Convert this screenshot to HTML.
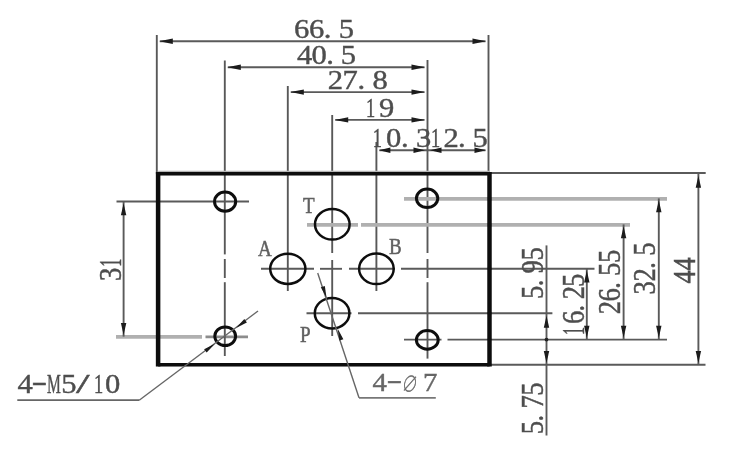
<!DOCTYPE html>
<html><head><meta charset="utf-8"><title>drawing</title>
<style>
html,body{margin:0;padding:0;background:#fff;}
svg{display:block;font-family:"Liberation Serif",serif;}
</style></head>
<body>
<svg width="738" height="460" viewBox="0 0 738 460">
<defs><filter id="soft" x="0" y="0" width="738" height="460" filterUnits="userSpaceOnUse"><feGaussianBlur stdDeviation="0.6"/></filter></defs>
<rect width="738" height="460" fill="#fff"/>
<g filter="url(#soft)">
<line x1="156.8" y1="35" x2="156.8" y2="173.8" stroke="#585858" stroke-width="1.9" />
<line x1="224.8" y1="60.5" x2="224.8" y2="254.4" stroke="#585858" stroke-width="1.9" />
<line x1="287.8" y1="86" x2="287.8" y2="291" stroke="#585858" stroke-width="1.9" />
<line x1="332.2" y1="115" x2="332.2" y2="253" stroke="#585858" stroke-width="1.9" />
<line x1="376.4" y1="142" x2="376.4" y2="291" stroke="#585858" stroke-width="1.9" />
<line x1="427.5" y1="60" x2="427.5" y2="253" stroke="#585858" stroke-width="1.9" />
<line x1="488.5" y1="35" x2="488.5" y2="173.8" stroke="#585858" stroke-width="1.9" />
<line x1="159.8" y1="41.2" x2="485.5" y2="41.2" stroke="#5a5a5a" stroke-width="1.9" />
<line x1="227.8" y1="67.2" x2="424.5" y2="67.2" stroke="#5a5a5a" stroke-width="1.9" />
<line x1="290.8" y1="92.1" x2="424.5" y2="92.1" stroke="#5a5a5a" stroke-width="1.9" />
<line x1="335.2" y1="119.9" x2="424.5" y2="119.9" stroke="#5a5a5a" stroke-width="1.9" />
<line x1="379.4" y1="150.2" x2="485.5" y2="150.2" stroke="#5a5a5a" stroke-width="1.9" />
<polygon points="159.30,41.20 172.80,38.50 172.80,43.90" fill="#1a1a1a"/>
<polygon points="486.00,41.20 472.50,43.90 472.50,38.50" fill="#1a1a1a"/>
<polygon points="227.30,67.20 240.80,64.50 240.80,69.90" fill="#1a1a1a"/>
<polygon points="425.00,67.20 411.50,69.90 411.50,64.50" fill="#1a1a1a"/>
<polygon points="290.30,92.10 303.80,89.40 303.80,94.80" fill="#1a1a1a"/>
<polygon points="425.00,92.10 411.50,94.80 411.50,89.40" fill="#1a1a1a"/>
<polygon points="334.70,119.90 348.20,117.20 348.20,122.60" fill="#1a1a1a"/>
<polygon points="425.00,119.90 411.50,122.60 411.50,117.20" fill="#1a1a1a"/>
<polygon points="378.90,150.20 390.40,147.50 390.40,152.90" fill="#1a1a1a"/>
<polygon points="425.00,150.20 413.50,152.90 413.50,147.50" fill="#1a1a1a"/>
<polygon points="430.00,150.20 441.50,147.50 441.50,152.90" fill="#1a1a1a"/>
<polygon points="486.00,150.20 474.50,152.90 474.50,147.50" fill="#1a1a1a"/>
<text transform="translate(294,38) scale(1.15,1)" x="0.0 12.96 25.91 38.87" y="0" font-size="26.6" fill="#4e4e4e" stroke="#4e4e4e" stroke-width="0.4">66.5</text>
<text transform="translate(297,63.6) scale(1.15,1)" x="0.0 12.7 25.39 38.09" y="0" font-size="26.6" fill="#4e4e4e" stroke="#4e4e4e" stroke-width="0.4">40.5</text>
<text transform="translate(327.7,88.7) scale(1.15,1)" x="0.0 12.96 25.91 38.87" y="0" font-size="26.6" fill="#4e4e4e" stroke="#4e4e4e" stroke-width="0.4">27.8</text>
<text transform="translate(364,116.8) scale(1.15,1)" font-size="26.6" fill="#4e4e4e" stroke="#4e4e4e" stroke-width="0.4"><tspan x="1.8" y="0" textLength="8.0" lengthAdjust="spacingAndGlyphs">1</tspan><tspan x="12.96" y="0">9</tspan></text>
<text transform="translate(370.8,146.7) scale(1.15,1)" font-size="26.6" fill="#4e4e4e" stroke="#4e4e4e" stroke-width="0.4"><tspan x="1.8" y="0" textLength="8.0" lengthAdjust="spacingAndGlyphs">1</tspan><tspan x="13.13" y="0">0</tspan><tspan x="26.26" y="0">.</tspan><tspan x="39.39" y="0">3</tspan></text>
<text transform="translate(429,147.4) scale(1.15,1)" font-size="26.6" fill="#4e4e4e" stroke="#4e4e4e" stroke-width="0.4"><tspan x="1.8" y="0" textLength="8.0" lengthAdjust="spacingAndGlyphs">1</tspan><tspan x="12.7" y="0">2</tspan><tspan x="25.22" y="0">.</tspan><tspan x="37.83" y="0">5</tspan></text>
<line x1="489.5" y1="173.0" x2="705.7" y2="173.0" stroke="#5a5a5a" stroke-width="1.9" />
<line x1="489.5" y1="364.7" x2="705.5" y2="364.7" stroke="#5a5a5a" stroke-width="1.9" />
<line x1="404" y1="198.8" x2="667" y2="198.8" stroke="#b0b0b0" stroke-width="3.8" />
<line x1="307" y1="224.9" x2="358" y2="224.9" stroke="#b0b0b0" stroke-width="3.8" />
<line x1="361" y1="224.9" x2="630" y2="224.9" stroke="#b0b0b0" stroke-width="3.8" />
<line x1="261" y1="268.8" x2="314" y2="268.8" stroke="#5a5a5a" stroke-width="1.9" />
<line x1="320" y1="268.8" x2="342" y2="268.8" stroke="#5a5a5a" stroke-width="1.9" />
<line x1="349" y1="268.8" x2="395" y2="268.8" stroke="#5a5a5a" stroke-width="1.9" />
<line x1="401" y1="268.8" x2="594.5" y2="268.8" stroke="#5a5a5a" stroke-width="1.9" />
<line x1="306.5" y1="313.2" x2="351.5" y2="313.2" stroke="#5a5a5a" stroke-width="1.9" />
<line x1="358" y1="313.2" x2="552.4" y2="313.2" stroke="#5a5a5a" stroke-width="1.9" />
<line x1="404" y1="339.6" x2="441.5" y2="339.6" stroke="#5a5a5a" stroke-width="1.9" />
<line x1="447.5" y1="339.6" x2="667" y2="339.6" stroke="#5a5a5a" stroke-width="1.9" />
<line x1="698.4" y1="173.8" x2="698.4" y2="364.7" stroke="#5a5a5a" stroke-width="1.9" />
<line x1="658.8" y1="198.4" x2="658.8" y2="339.6" stroke="#5a5a5a" stroke-width="1.9" />
<line x1="623.6" y1="224.4" x2="623.6" y2="339.6" stroke="#5a5a5a" stroke-width="1.9" />
<line x1="586.8" y1="268.8" x2="586.8" y2="339.6" stroke="#5a5a5a" stroke-width="1.9" />
<line x1="546.5" y1="245.4" x2="546.5" y2="435.5" stroke="#5a5a5a" stroke-width="1.9" />
<polygon points="698.40,175.80 701.10,187.80 695.70,187.80" fill="#1a1a1a"/>
<polygon points="698.40,362.90 695.70,350.90 701.10,350.90" fill="#1a1a1a"/>
<polygon points="658.80,200.20 661.50,212.20 656.10,212.20" fill="#1a1a1a"/>
<polygon points="658.80,337.80 656.10,325.80 661.50,325.80" fill="#1a1a1a"/>
<polygon points="623.60,226.20 626.30,238.20 620.90,238.20" fill="#1a1a1a"/>
<polygon points="623.60,337.80 620.90,325.80 626.30,325.80" fill="#1a1a1a"/>
<polygon points="586.80,270.60 589.50,282.60 584.10,282.60" fill="#1a1a1a"/>
<polygon points="586.80,337.80 584.10,325.80 589.50,325.80" fill="#1a1a1a"/>
<polygon points="546.50,315.70 549.20,327.70 543.80,327.70" fill="#1a1a1a"/>
<polygon points="546.50,362.90 543.80,350.90 549.20,350.90" fill="#1a1a1a"/>
<circle cx="546.5" cy="339.6" r="1.9" fill="#222"/>
<text transform="translate(694.6,283.5) scale(1.15,1) rotate(-90)" x="0.0 13.0" y="0" font-size="26.6" fill="#4e4e4e" stroke="#4e4e4e" stroke-width="0.4">44</text>
<text transform="translate(654.7,294.5) scale(1.15,1) rotate(-90)" x="0.0 12.9 25.8 38.7" y="0" font-size="26.6" fill="#4e4e4e" stroke="#4e4e4e" stroke-width="0.4">32.5</text>
<text transform="translate(619.8,314.3) scale(1.15,1) rotate(-90)" x="0.0 12.8 25.6 38.4 51.2" y="0" font-size="26.6" fill="#4e4e4e" stroke="#4e4e4e" stroke-width="0.4">26.55</text>
<text transform="translate(583.6,336.2) scale(1.15,1) rotate(-90)" font-size="26.6" fill="#4e4e4e" stroke="#4e4e4e" stroke-width="0.4"><tspan x="1.3" y="0" textLength="8.0" lengthAdjust="spacingAndGlyphs">1</tspan><tspan x="12.3" y="0">6</tspan><tspan x="24.6" y="0">.</tspan><tspan x="36.9" y="0">2</tspan><tspan x="49.2" y="0">5</tspan></text>
<text transform="translate(543.3,299) scale(1.15,1) rotate(-90)" x="0.0 12.8 25.6 38.4" y="0" font-size="26.6" fill="#4e4e4e" stroke="#4e4e4e" stroke-width="0.4">5.95</text>
<text transform="translate(542.6,434.2) scale(1.15,1) rotate(-90)" x="0.0 12.8 25.6 38.4" y="0" font-size="26.6" fill="#4e4e4e" stroke="#4e4e4e" stroke-width="0.4">5.75</text>
<line x1="116.5" y1="201.5" x2="249" y2="201.5" stroke="#5a5a5a" stroke-width="1.9" />
<line x1="116" y1="336.8" x2="202" y2="336.8" stroke="#b0b0b0" stroke-width="3.8" />
<line x1="205.5" y1="336.8" x2="248" y2="336.8" stroke="#8c8c8c" stroke-width="2.8" />
<line x1="123.6" y1="201.5" x2="123.6" y2="336.6" stroke="#5a5a5a" stroke-width="1.9" />
<polygon points="123.60,203.30 126.30,215.30 120.90,215.30" fill="#1a1a1a"/>
<polygon points="123.60,335.00 120.90,323.00 126.30,323.00" fill="#1a1a1a"/>
<text transform="translate(120.6,281) scale(1.15,1) rotate(-90)" font-size="26.6" fill="#4e4e4e" stroke="#4e4e4e" stroke-width="0.4"><tspan x="0.0" y="0">3</tspan><tspan x="14.2" y="0" textLength="8.0" lengthAdjust="spacingAndGlyphs">1</tspan></text>
<line x1="224.8" y1="259" x2="224.8" y2="278" stroke="#585858" stroke-width="1.9" />
<line x1="224.8" y1="282.2" x2="224.8" y2="356" stroke="#585858" stroke-width="1.9" />
<line x1="427.5" y1="259" x2="427.5" y2="278" stroke="#585858" stroke-width="1.9" />
<line x1="427.5" y1="282.2" x2="427.5" y2="358.6" stroke="#585858" stroke-width="1.9" />
<line x1="332.2" y1="260" x2="332.2" y2="336" stroke="#585858" stroke-width="1.9" />
<line x1="158.1" y1="171.6" x2="489.5" y2="171.6" stroke="#b4b4b4" stroke-width="1.6" />
<line x1="158.1" y1="173.8" x2="489.5" y2="173.8" stroke="#0a0a0a" stroke-width="3.4" />
<line x1="158.1" y1="364.7" x2="489.5" y2="364.7" stroke="#0a0a0a" stroke-width="3.4" />
<line x1="158.1" y1="172.10000000000002" x2="158.1" y2="366.4" stroke="#0a0a0a" stroke-width="4.5" />
<line x1="489.5" y1="172.10000000000002" x2="489.5" y2="366.4" stroke="#0a0a0a" stroke-width="4.5" />
<ellipse cx="225.1" cy="201.6" rx="10.6" ry="9.6" fill="none" stroke="#111" stroke-width="3.0"/>
<ellipse cx="427.1" cy="198.3" rx="10.7" ry="9.2" fill="none" stroke="#111" stroke-width="3.0"/>
<ellipse cx="225.2" cy="336.3" rx="10.4" ry="9.3" fill="none" stroke="#111" stroke-width="3.0"/>
<ellipse cx="427.3" cy="339.9" rx="10.9" ry="9.3" fill="none" stroke="#111" stroke-width="3.0"/>
<ellipse cx="332.3" cy="224.3" rx="17.3" ry="15.3" fill="none" stroke="#111" stroke-width="2.5"/>
<ellipse cx="287.8" cy="268.8" rx="17.6" ry="15.1" fill="none" stroke="#111" stroke-width="2.5"/>
<ellipse cx="376.4" cy="268.8" rx="17.3" ry="15.3" fill="none" stroke="#111" stroke-width="2.5"/>
<ellipse cx="332.1" cy="313.2" rx="17.3" ry="15.3" fill="none" stroke="#111" stroke-width="2.5"/>
<text transform="translate(303,212.8) scale(0.84,1)" x="0.0" y="0" font-size="22.7" fill="#606060" stroke="#606060" stroke-width="0.5">T</text>
<text transform="translate(258,256.2) scale(0.84,1)" x="0.0" y="0" font-size="22.7" fill="#606060" stroke="#606060" stroke-width="0.5">A</text>
<text transform="translate(389,254.2) scale(0.84,1)" x="0.0" y="0" font-size="22.7" fill="#606060" stroke="#606060" stroke-width="0.5">B</text>
<text transform="translate(300,342.4) scale(0.84,1)" x="0.0" y="0" font-size="22.7" fill="#606060" stroke="#606060" stroke-width="0.5">P</text>
<line x1="17.3" y1="400.2" x2="139.2" y2="400.2" stroke="#666" stroke-width="1.8" />
<line x1="139.2" y1="400.2" x2="258" y2="311" stroke="#666" stroke-width="1.4" />
<polygon points="215.00,343.70 206.66,352.58 204.14,349.22" fill="#1a1a1a"/>
<polygon points="236.00,328.00 244.34,319.12 246.86,322.48" fill="#1a1a1a"/>
<text transform="translate(17.5,393.1) scale(1.15,1)" font-size="26.6" fill="#4e4e4e" stroke="#4e4e4e" stroke-width="0.4"><tspan x="0.0" y="0">4</tspan><tspan x="12.1" y="-3" textLength="13.6" lengthAdjust="spacingAndGlyphs">-</tspan><tspan x="25.69" y="0" textLength="12.0" lengthAdjust="spacingAndGlyphs">M</tspan><tspan x="38.09" y="0">5</tspan><tspan x="50.98" y="0" textLength="11.8" lengthAdjust="spacingAndGlyphs">/</tspan><tspan x="66.58" y="0" textLength="8.0" lengthAdjust="spacingAndGlyphs">1</tspan><tspan x="76.17" y="0">0</tspan></text>
<line x1="359" y1="397.8" x2="435.8" y2="397.8" stroke="#777" stroke-width="1.8" />
<line x1="359" y1="397.8" x2="317.7" y2="273" stroke="#666" stroke-width="1.4" />
<polygon points="337.60,328.50 343.36,339.23 339.38,340.55" fill="#1a1a1a"/>
<polygon points="326.60,298.10 320.84,287.37 324.82,286.05" fill="#1a1a1a"/>
<text transform="translate(372.5,391.2) scale(1.15,1)" font-size="25" fill="#666" stroke="#666" stroke-width="0.4"><tspan x="0.0" y="0">4</tspan><tspan x="12.1" y="-3" textLength="13.6" lengthAdjust="spacingAndGlyphs">-</tspan><tspan x="25.39" y="0.5" dx="-0.8" textLength="13.5" lengthAdjust="spacingAndGlyphs" font-family="&quot;Liberation Serif&quot;,&quot;Noto Serif CJK SC&quot;,serif" font-style="italic" font-size="22">∅</tspan><tspan x="43.91" y="0">7</tspan></text>
</g>
</svg>
</body></html>
